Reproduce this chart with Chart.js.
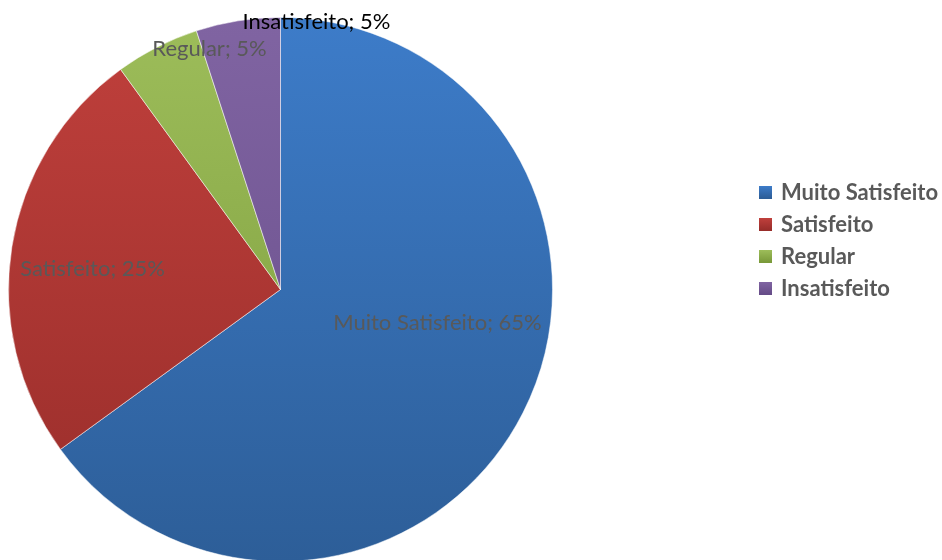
<!DOCTYPE html>
<html>
<head>
<meta charset="utf-8">
<script src="https://cdn.jsdelivr.net/npm/chart.js@4/dist/chart.umd.min.js"></script>
<style>
  html, body { margin: 0; padding: 0; background: #fff; overflow: hidden; }
  #wrap { width: 942px; height: 562px; position: relative; }
</style>
</head>
<body>
<div id="wrap"><canvas id="pieChart"></canvas></div>
<script>
const labels = ['Muito Satisfeito', 'Satisfeito', 'Regular', 'Insatisfeito'];
const values = [65, 25, 5, 5];

// top / bottom colour of each slice gradient
const topColors = ['#3d7cc9', '#c0403c', '#9dbd5a', '#8064a2'];
const bottomColors = ['#2d5e98', '#982d2a', '#7a9a3a', '#664c88'];

// label spots in units of the pie radius, relative to the centre
const labelSpots = [[0.577, 0.121], [-0.691, -0.077], [-0.261, -0.886], [0.132, -0.982]];
const labelColors = ['#595959', '#595959', '#595959', '#000000'];

const FONT = 'Lato, "Open Sans", sans-serif';

function sliceFill(ctx) {
  const chart = ctx.chart;
  const area = chart.chartArea;
  if (!area) return topColors[ctx.dataIndex];
  const g = chart.ctx.createLinearGradient(0, area.top, 0, area.bottom);
  g.addColorStop(0, topColors[ctx.dataIndex]);
  g.addColorStop(1, bottomColors[ctx.dataIndex]);
  return g;
}

const pieExtras = {
  id: 'pieExtras',
  afterDatasetsDraw(chart) {
    const c = chart.ctx;
    const arc = chart.getDatasetMeta(0).data[0];
    const r = arc.outerRadius;
    c.save();
    c.textAlign = 'center';
    c.textBaseline = 'middle';
    c.font = '22px ' + FONT;
    labels.forEach((lab, i) => {
      c.fillStyle = labelColors[i];
      c.fillText(`${lab}; ${values[i]}%`, arc.x + labelSpots[i][0] * r, arc.y + labelSpots[i][1] * r);
    });

    // legend on the right
    c.textAlign = 'left';
    c.font = 'bold 22px ' + FONT;
    labels.forEach((lab, i) => {
      const y = 192 + i * 32;
      const g = c.createLinearGradient(0, y - 6, 0, y + 6);
      g.addColorStop(0, topColors[i]);
      g.addColorStop(1, bottomColors[i]);
      c.fillStyle = g;
      c.fillRect(759, y - 6, 13, 13);
      c.fillStyle = '#595959';
      c.fillText(lab, 781, y + 1);
    });
    c.restore();
  }
};

new Chart(document.getElementById('pieChart').getContext('2d'), {
  type: 'pie',
  data: {
    labels: labels,
    datasets: [{
      data: values,
      backgroundColor: sliceFill,
      borderColor: 'rgba(255,255,255,0.5)',
      borderWidth: 1
    }]
  },
  options: {
    responsive: true,
    maintainAspectRatio: false,
    animation: false,
    layout: { padding: { left: 8, right: 389, top: 17, bottom: 0 } },
    plugins: {
      legend: { display: false },
      tooltip: { enabled: false }
    }
  },
  plugins: [pieExtras]
});
</script>
</body>
</html>
